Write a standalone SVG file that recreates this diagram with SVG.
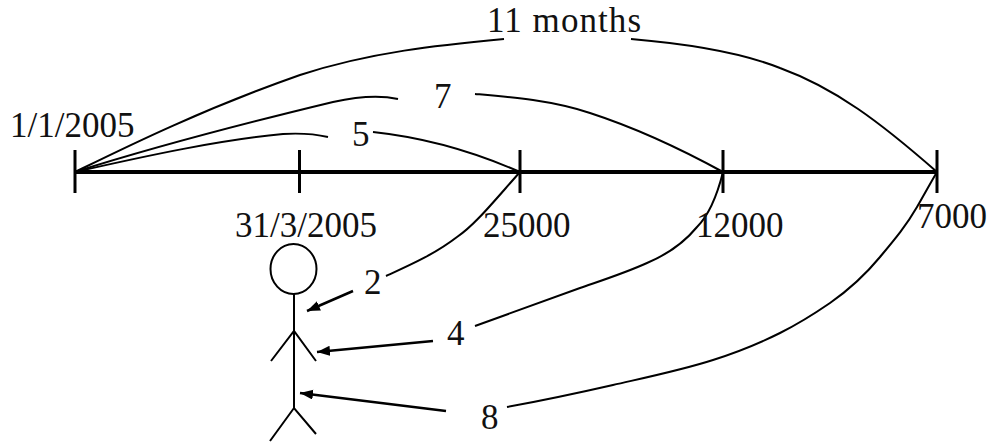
<svg xmlns="http://www.w3.org/2000/svg" width="994" height="445" viewBox="0 0 994 445">
<style>
text{font-family:"Liberation Serif","Times New Roman",serif;font-size:35px;fill:#111}
.c{fill:none;stroke:#000;stroke-width:2}
.t{fill:none;stroke:#000;stroke-width:3}
.a{fill:none;stroke:#000;stroke-width:2.5;marker-end:url(#ah)}
.p{fill:none;stroke:#000;stroke-width:2}
</style>
<defs>
<marker id="ah" markerUnits="userSpaceOnUse" markerWidth="14" markerHeight="12" refX="13" refY="5" orient="auto">
<path d="M0 0L13 5L0 10Z" fill="#000"/>
</marker>
</defs>
<rect width="994" height="445" fill="#fff"/>
<g id="timeline">
<line class="t" x1="75" y1="172" x2="937" y2="172" style="stroke-width:4"/>
<line class="t" x1="75" y1="150" x2="75" y2="193"/>
<line class="t" x1="299.500" y1="150" x2="299.500" y2="193"/>
<line class="t" x1="520" y1="150" x2="520" y2="193"/>
<line class="t" x1="723" y1="150" x2="723" y2="193"/>
<line class="t" x1="937" y1="150" x2="937" y2="193"/>
</g>
<g id="connectors">
<path class="c" d="M75 172C120 150 200 110 300 75C370 52 440 45 504 39"/>
<path class="c" d="M631 39C690 44 740 52 780 68C835 88 880 122 937 172"/>
<path class="c" d="M75 172C160 145 250 122 333 102C360 96 380 95 398 99"/>
<path class="c" d="M475 94C510 97 550 100 590 113C630 126 670 143 723 172"/>
<path class="c" d="M75 172C150 155 220 140 283 134C300 133 315 134 328 137"/>
<path class="c" d="M373 132C420 137 470 150 520 172"/>
<path class="c" d="M520 172C495 200 475 225 457 237C435 254 410 265 386 276"/>
<path class="c" d="M723 172C716 200 708 216 697 227C683 244 666 255 647 263C625 273 603 280 580 288L475 326"/>
<path class="c" d="M937 172C931 182 924 195 917 207C906 226 895 239 880 257C866 274 850 289 830 303C814 314 798 324 780 333C760 343 738 352 713 360C682 370 648 377 613 385C578 393 540 401 507 407"/>
<line class="a" x1="353" y1="291" x2="307" y2="311"/>
<line class="a" x1="433" y1="341" x2="317" y2="352"/>
<line class="a" x1="446" y1="411" x2="300" y2="393"/>
</g>
<g id="person">
<ellipse class="p" cx="293.500" cy="269" rx="23" ry="25"/>
<line class="p" x1="294" y1="293" x2="294" y2="408"/>
<path class="p" d="M271 361L294 331L316 361"/>
<path class="p" d="M270 441L294 408L316 434"/>
</g>
<g id="labels">
<text x="10" y="137">1/1/2005</text>
<text x="235" y="237">31/3/2005</text>
<text x="483" y="237">25000</text>
<text x="696" y="237">12000</text>
<text x="917" y="228">7000</text>
<text x="487" y="32" textLength="154">11 months</text>
<text x="434" y="108">7</text>
<text x="352" y="146">5</text>
<text x="364" y="294">2</text>
<text x="447" y="345">4</text>
<text x="481" y="429">8</text>
</g>
</svg>
